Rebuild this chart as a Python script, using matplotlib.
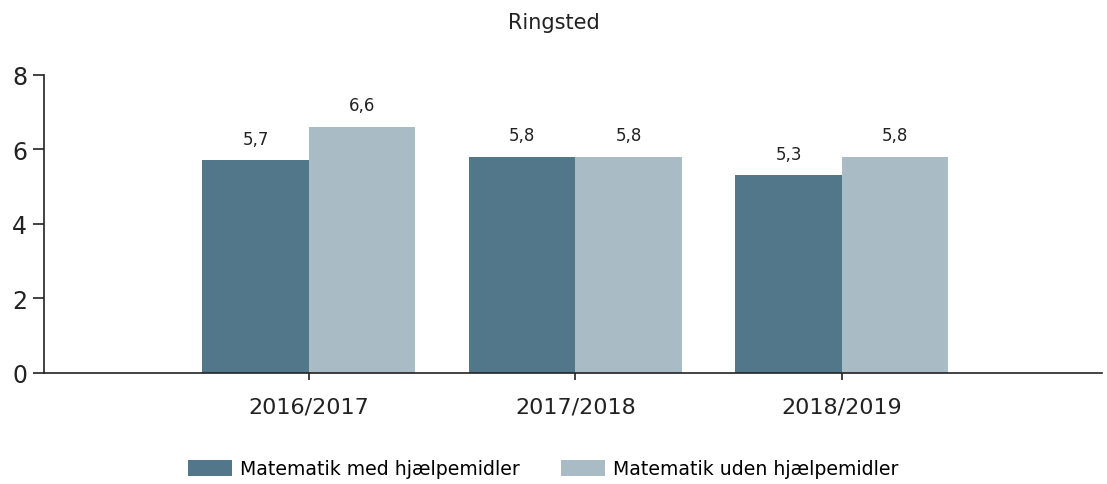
import numpy as np
import matplotlib
matplotlib.use("Agg")
from matplotlib import pyplot as plt

plt.rcParams["font.family"] = ["DejaVu Sans"]

years = ["2016/2017", "2017/2018", "2018/2019"]
med_hjaelpemidler = [5.7, 5.8, 5.3]
uden_hjaelpemidler = [6.6, 5.8, 5.8]
series_names = ["Matematik med hjælpemidler", "Matematik uden hjælpemidler"]
y_ticks = [0, 2, 4, 6, 8]

DARK = "#52778a"
LIGHT = "#a9bbc5"
AXIS = "#222222"

fig = plt.figure(figsize=(11.07, 4.85), dpi=100)
ax = fig.add_axes([44 / 1107, 111 / 485, (1102 - 44) / 1107, (374 - 75.7) / 485])

x = np.arange(len(years))
width = 0.4
bars_med = ax.bar(x - width / 2, med_hjaelpemidler, width, color=DARK, label=series_names[0])
bars_uden = ax.bar(x + width / 2, uden_hjaelpemidler, width, color=LIGHT, label=series_names[1])

for bars in (bars_med, bars_uden):
    for bar in bars:
        h = bar.get_height()
        ax.annotate(
            f"{h:.1f}".replace(".", ","),
            (bar.get_x() + bar.get_width() / 2, h),
            xytext=(0, 9),
            textcoords="offset points",
            ha="center",
            va="bottom",
            fontsize=12,
            color="#222222",
        )

ax.set_xlim(-0.994, 2.976)
ax.set_ylim(0, 8)
ax.set_yticks(y_ticks)
ax.set_xticks(x)
ax.set_xticklabels(years)

for side in ("top", "right"):
    ax.spines[side].set_visible(False)
for side in ("left", "bottom"):
    ax.spines[side].set_color(AXIS)
    ax.spines[side].set_linewidth(1.2)

ax.tick_params(axis="y", length=8, width=1.2, color=AXIS, pad=4, labelsize=17, labelcolor="#222222")
ax.tick_params(axis="x", length=5, width=1.2, color=AXIS, pad=12, labelsize=16, labelcolor="#222222")

fig.text(0.5, 1 - 23 / 485, "Ringsted", ha="center", va="center", fontsize=15, color="#222222")

fig.legend(
    handles=[bars_med, bars_uden],
    labels=series_names,
    loc="center",
    bbox_to_anchor=(543 / 1107, 1 - 470 / 485),
    ncol=2,
    frameon=False,
    fontsize=13.6,
    handlelength=2.35,
    handleheight=0.9,
    handletextpad=0.4,
    columnspacing=2.2,
)

fig.savefig("out.png", dpi=100)
